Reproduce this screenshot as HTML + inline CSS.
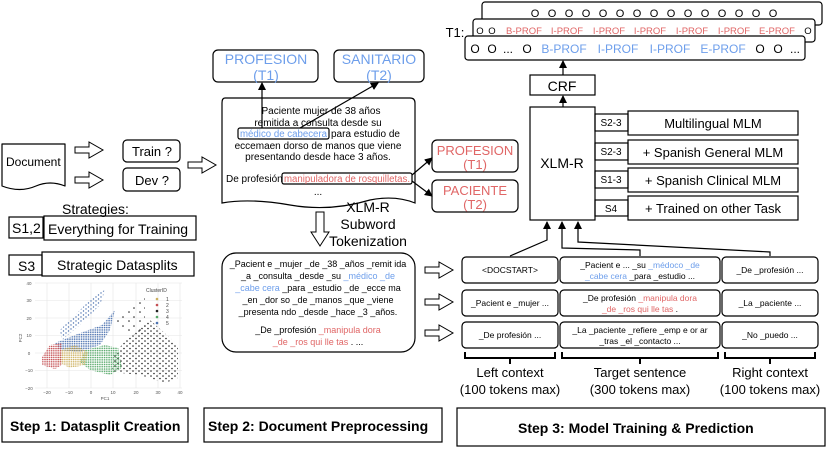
<!DOCTYPE html>
<html><head><meta charset="utf-8"><style>
body{margin:0;background:#fff}
svg{display:block;font-family:"Liberation Sans",sans-serif}
</style></head><body>
<svg width="830" height="450" viewBox="0 0 830 450" xmlns="http://www.w3.org/2000/svg">
<defs>
<marker id="ah" markerWidth="8" markerHeight="8" refX="7" refY="4" orient="auto" markerUnits="userSpaceOnUse"><path d="M0,0 L8,4 L0,8 z" fill="#000"/></marker>
<g id="barrow"><path d="M0,-3 L14,-3 L14,-8 L28,0 L14,8 L14,3 L0,3 z" fill="#fff" stroke="#000" stroke-width="1"/></g>
<pattern id="pr" width="2.2" height="2.2" patternUnits="userSpaceOnUse"><circle cx="1" cy="1" r="0.8" fill="#c44e52"/></pattern>
<pattern id="py" width="2.2" height="2.2" patternUnits="userSpaceOnUse"><circle cx="1" cy="1" r="0.8" fill="#ccb05e"/></pattern>
<pattern id="pg" width="2.3" height="2.3" patternUnits="userSpaceOnUse"><circle cx="1" cy="1" r="0.8" fill="#55a868"/></pattern>
<pattern id="pb" width="2.3" height="2.3" patternUnits="userSpaceOnUse"><circle cx="1" cy="1" r="0.8" fill="#4c72b0"/></pattern>
<pattern id="pb2" width="5" height="4" patternUnits="userSpaceOnUse"><circle cx="1" cy="1" r="0.7" fill="#4c72b0"/><circle cx="3.5" cy="3" r="0.7" fill="#4c72b0"/></pattern>
<pattern id="pk" width="6" height="5" patternUnits="userSpaceOnUse"><circle cx="1" cy="1" r="0.8" fill="#222"/><circle cx="4" cy="3.5" r="0.8" fill="#222"/></pattern>
<pattern id="pk2" width="11" height="9" patternUnits="userSpaceOnUse"><circle cx="2" cy="2" r="0.8" fill="#222"/><circle cx="8" cy="6" r="0.8" fill="#222"/></pattern>
</defs>
<g fill="none" stroke="#000" stroke-width="1.2">
<path d="M2,144 L65,144 L65,186 Q50,180 36,186 Q20,193 2,186 z" stroke-linejoin="round"/>
<rect x="123" y="140" width="57" height="22" rx="4"/>
<rect x="123" y="168" width="57" height="23" rx="4"/>
<rect x="9" y="217" width="34" height="21"/>
<rect x="44" y="216" width="152" height="24"/>
<rect x="9" y="255" width="33" height="20"/>
<rect x="42" y="252" width="152" height="24"/>
<rect x="2" y="408" width="186" height="34"/>
<rect x="204" y="408" width="238" height="34"/>
<rect x="457" y="408" width="368" height="38"/>
<rect x="213" y="50" width="105" height="32" rx="5"/>
<rect x="334" y="50" width="90" height="32" rx="5"/>
<path d="M225,98 L410,98 Q415,98 415,103 L415,203 Q395,195 370,200 Q330,212 290,205 Q250,198 222,203 L222,103 Q222,98 225,98 z"/>
<rect x="238" y="128" width="91" height="11" rx="2"/>
<rect x="282" y="173" width="130" height="11" rx="2"/>
<rect x="432" y="140" width="86" height="32" rx="5"/>
<rect x="432" y="180" width="86" height="32" rx="5"/>
<rect x="222" y="253" width="193" height="99" rx="14"/>
<rect x="482" y="2" width="340" height="23" rx="3"/>
<rect x="473" y="19" width="342" height="23" rx="3" fill="#fff"/>
<rect x="465" y="36" width="340" height="24" rx="3" fill="#fff"/>
<rect x="530" y="75" width="65" height="20"/>
<rect x="530" y="107" width="65" height="113"/>
<rect x="595" y="114" width="33" height="17"/>
<rect x="595" y="143" width="33" height="17"/>
<rect x="595" y="171" width="33" height="17"/>
<rect x="595" y="200" width="33" height="16"/>
<rect x="628" y="111" width="170" height="24"/>
<rect x="628" y="140" width="170" height="24"/>
<rect x="628" y="168" width="170" height="24"/>
<rect x="628" y="196" width="170" height="24"/>
<rect x="462" y="257" width="96" height="26" rx="4"/>
<rect x="560" y="257" width="160" height="26" rx="4"/>
<rect x="722" y="257" width="96" height="26" rx="4"/>
<rect x="462" y="290" width="96" height="26" rx="4"/>
<rect x="560" y="290" width="160" height="26" rx="4"/>
<rect x="722" y="290" width="96" height="26" rx="4"/>
<rect x="462" y="322" width="96" height="26" rx="4"/>
<rect x="560" y="322" width="160" height="26" rx="4"/>
<rect x="722" y="322" width="96" height="26" rx="4"/>
<path d="M465,352 V358 H555 V352 M510,358 V364" stroke-width="2"/>
<path d="M562,352 V358 H718 V352 M640,358 V364" stroke-width="2"/>
<path d="M725,352 V358 H815 V352 M770,358 V364" stroke-width="2"/>
<path d="M510,256 L547,240 L547,222" marker-end="url(#ah)"/>
<path d="M640,256 L640,250 L562,248 L562,222" marker-end="url(#ah)"/>
<path d="M770,256 L770,252 L578,242 L578,222" marker-end="url(#ah)"/>
<path d="M563,107 L563,96" marker-end="url(#ah)"/>
<path d="M563,75 L563,61" marker-end="url(#ah)"/>
<path d="M262,128 L262,83" marker-end="url(#ah)"/>
<path d="M300,128 L378,83" marker-end="url(#ah)"/>
<path d="M412,175 L432,158" marker-end="url(#ah)"/>
<path d="M412,181 L432,196" marker-end="url(#ah)"/>
</g>
<use href="#barrow" x="75" y="150"/>
<use href="#barrow" x="75" y="180"/>
<use href="#barrow" x="188" y="165"/>
<use href="#barrow" x="425" y="270"/>
<use href="#barrow" x="425" y="302"/>
<use href="#barrow" x="425" y="333"/>
<path d="M316,212 L324,212 L324,232 L329,232 L320,246 L311,232 L316,232 z" fill="#fff" stroke="#000"/>

<g font-size="13" fill="#000">
<text x="6" y="166" font-size="12">Document</text>
<text x="132" y="156">Train ?</text>
<text x="135" y="185">Dev ?</text>
<text x="62" y="214" font-size="14">Strategies:</text>
<text x="12" y="233" font-size="14">S1,2</text>
<text x="48" y="234" font-size="14">Everything for Training</text>
<text x="18" y="271" font-size="14">S3</text>
<text x="57" y="270" font-size="14">Strategic Datasplits</text>
<g font-weight="bold" font-size="14"><text x="10" y="431">Step 1: Datasplit Creation</text><text x="208" y="431">Step 2: Document Preprocessing</text><text x="518" y="433">Step 3: Model Training &amp; Prediction</text></g>
</g>
<g font-size="14" fill="#6d9eeb" text-anchor="middle"><text x="266" y="64">PROFESION</text><text x="266" y="80">(T1)</text><text x="379" y="64">SANITARIO</text><text x="379" y="80">(T2)</text></g>
<g font-size="13" fill="#e06666" text-anchor="middle"><text x="475" y="155">PROFESION</text><text x="475" y="169">(T1)</text><text x="475" y="195">PACIENTE</text><text x="475" y="209">(T2)</text></g>
<g font-size="10" fill="#000" text-anchor="middle">
<text x="321" y="114">Paciente mujer de 38 años</text>
<text x="318" y="126">remitida a consulta desde su</text>
<text x="240" y="137" fill="#6d9eeb" text-anchor="start" textLength="87" lengthAdjust="spacingAndGlyphs">médico de cabecera</text><text x="331" y="137" text-anchor="start">para estudio de</text>
<text x="318" y="149">eccemaen dorso de manos que viene</text>
<text x="318" y="160">presentando desde hace 3 años.</text>
<text x="226" y="182" text-anchor="start">De profesión</text><text x="284" y="182" fill="#e06666" text-anchor="start" textLength="126" lengthAdjust="spacingAndGlyphs">manipuladora de rosquilletas.</text>
<text x="318" y="195">...</text>
</g>
<g font-size="14" text-anchor="middle"><text x="368" y="212">XLM-R</text><text x="368" y="229">Subword</text><text x="368" y="246">Tokenization</text></g>
<g font-size="9" text-anchor="middle">
<text x="318" y="267">_Pacient e _mujer _de _38 _años _remit ida</text>
<text x="318" y="279">_a _consulta _desde _su <tspan fill="#6d9eeb">_médico _de</tspan></text>
<text x="318" y="291"><tspan fill="#6d9eeb">_cabe cera</tspan> _para _estudio _de _ecce ma</text>
<text x="318" y="303">_en _dor so _de _manos _que _viene</text>
<text x="318" y="315">_presenta ndo _desde _hace _3 _años.</text>
<text x="318" y="333">_De _profesión <tspan fill="#e06666">_manipula dora</tspan></text>
<text x="318" y="345"><tspan fill="#e06666">_de _ros qui lle tas</tspan> .        ...</text>
</g>
<g font-size="11" text-anchor="middle">
<text x="455" y="37" font-size="13">T1:</text>
<text x="535" y="17">O</text><text x="552" y="17">O</text><text x="569" y="17">O</text><text x="586" y="17">O</text><text x="603" y="17">O</text><text x="620" y="17">O</text><text x="637" y="17">O</text><text x="654" y="17">O</text><text x="671" y="17">O</text><text x="688" y="17">O</text><text x="705" y="17">O</text><text x="722" y="17">O</text><text x="739" y="17">O</text><text x="756" y="17">O</text><text x="773" y="17">O</text>
<g font-size="9.5"><text x="480" y="34">O</text><text x="492" y="34">O</text>
<g fill="#e06666"><text x="524" y="34">B-PROF</text><text x="567" y="34">I-PROF</text><text x="609" y="34">I-PROF</text><text x="650" y="34">I-PROF</text><text x="692" y="34">I-PROF</text><text x="734" y="34">I-PROF</text><text x="777" y="34">E-PROF</text></g>
<text x="808" y="34">O</text></g>
<g font-size="12"><text x="475" y="53">O</text><text x="492" y="53">O</text><text x="508" y="53">...</text><text x="527" y="53">O</text>
<g fill="#6d9eeb"><text x="564" y="53">B-PROF</text><text x="618" y="53">I-PROF</text><text x="670" y="53">I-PROF</text><text x="723" y="53">E-PROF</text></g>
<text x="760" y="53">O</text><text x="778" y="53">O</text><text x="795" y="53">...</text></g>
<text x="562" y="91" font-size="14">CRF</text>
<text x="562" y="168" font-size="14">XLM-R</text>
<g font-size="10"><text x="611" y="126">S2-3</text><text x="611" y="155">S2-3</text><text x="611" y="183">S1-3</text><text x="611" y="212">S4</text></g>
<text x="713" y="128" font-size="13">Multilingual MLM</text>
<text x="713" y="157" font-size="13">+ Spanish General MLM</text>
<text x="713" y="185" font-size="13">+ Spanish Clinical MLM</text>
<text x="713" y="213" font-size="13">+ Trained on other Task</text>
<g font-size="8.5">
<text x="510" y="273">&lt;DOCSTART&gt;</text>
<text x="640" y="268">_Pacient e ... _su <tspan fill="#6d9eeb">_médoco _de</tspan></text>
<text x="640" y="279"><tspan fill="#6d9eeb">_cabe cera</tspan> _para _estudio ...</text>
<text x="770" y="273">_De _profesión ...</text>
<text x="510" y="306">_Pacient e _mujer ...</text>
<text x="640" y="301">_De profesión <tspan fill="#e06666">_manipula dora</tspan></text>
<text x="640" y="312"><tspan fill="#e06666">_de _ros qui lle tas</tspan> .</text>
<text x="770" y="306">_La _paciente ...</text>
<text x="510" y="338">_De profesión ...</text>
<text x="640" y="333">_La _paciente _refiere _emp e or ar</text>
<text x="640" y="344">_tras _el _contacto ...</text>
<text x="770" y="338">_No _puedo ...</text>
</g>
<g font-size="13"><text x="510" y="377">Left context</text><text x="510" y="394">(100 tokens max)</text>
<text x="640" y="377">Target sentence</text><text x="640" y="394">(300 tokens max)</text>
<text x="770" y="377">Right context</text><text x="770" y="394">(100 tokens max)</text></g>
</g>
<g>
<g stroke="#e5e5e5" stroke-width="0.6">
<path d="M47,283V388M69,283V388M91,283V388M113,283V388M136,283V388M158,283V388M180,283V388"/>
<path d="M35,283H182M35,300.5H182M35,318H182M35,335.5H182M35,353H182M35,370.5H182M35,388H182"/>
</g>
<g font-size="4.5" fill="#555" text-anchor="middle">
<text x="47" y="394">−20</text><text x="69" y="394">−10</text><text x="91" y="394">0</text><text x="113" y="394">10</text><text x="136" y="394">20</text><text x="158" y="394">30</text><text x="180" y="394">40</text>
<text x="105" y="400">PC1</text>
<text x="29" y="285">40</text><text x="29" y="302">30</text><text x="29" y="320">20</text><text x="29" y="337">10</text><text x="29" y="355">0</text><text x="29" y="372">−10</text><text x="29" y="390">−20</text>
<text x="22" y="338" transform="rotate(-90 22 338)">PC2</text>
</g>
<polygon points="128,338 150,320 178,345 178,378 165,383 140,375 112,372 113,355" fill="url(#pk)"/>
<polygon points="110,320 140,300 145,292 145,328 135,335" fill="url(#pk2)"/>
<polygon points="55,343 75,335 102,325 115,310 110,330 100,345 80,352 60,350" fill="url(#pb)"/>
<polygon points="60,330 80,310 95,295 105,290 100,305 80,325 62,340" fill="url(#pb2)"/>
<polygon points="85,350 105,345 118,348 122,368 110,375 90,370 80,362" fill="url(#pg)"/>
<polygon points="60,350 75,345 88,352 85,365 70,368 58,362" fill="url(#py)"/>
<polygon points="42,357 50,345 62,343 62,365 55,369 42,365" fill="url(#pr)"/>
<g font-size="5" fill="#444"><text x="146" y="292">ClusterID</text>
<circle cx="157" cy="299" r="1.3" fill="#ccb05e"/><text x="166" y="301">1</text>
<circle cx="157" cy="305" r="1.3" fill="#c44e52"/><text x="166" y="307">2</text>
<circle cx="157" cy="311" r="1.3" fill="#222"/><text x="166" y="313">3</text>
<circle cx="157" cy="317" r="1.3" fill="#55a868"/><text x="166" y="319">4</text>
<circle cx="157" cy="323" r="1.3" fill="#4c72b0"/><text x="166" y="325">5</text></g>
</g>
</svg>
</body></html>
